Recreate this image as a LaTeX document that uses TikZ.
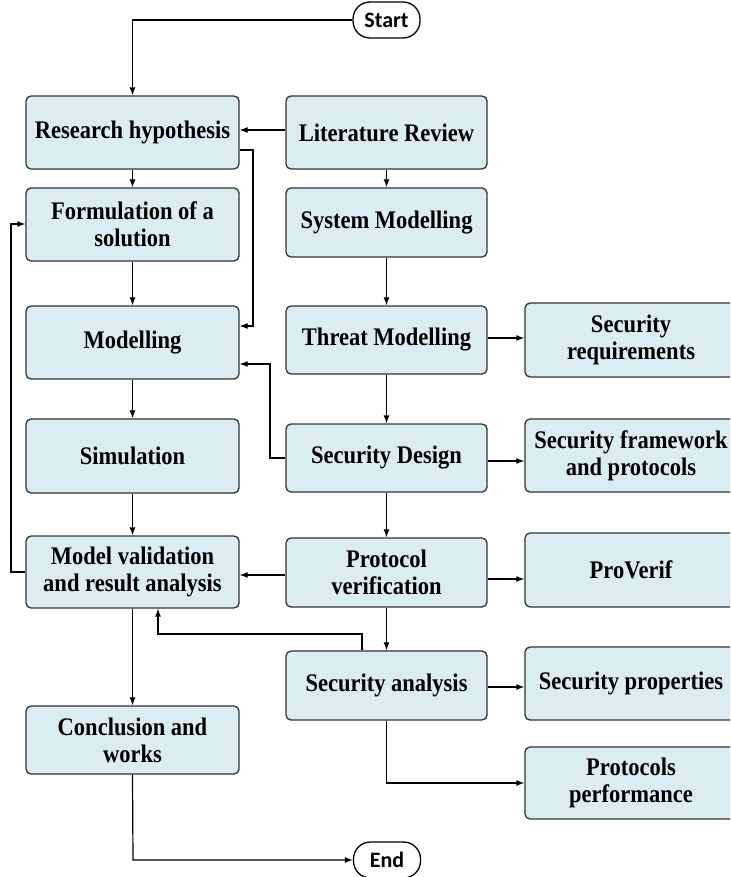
\documentclass[tikz,border=0pt]{standalone}
\usepackage{fontspec}
\setmainfont[FakeStretch=0.89]{Liberation Serif}
\newfontfamily\termfont{Carlito}
\usetikzlibrary{arrows.meta}

\definecolor{boxfill}{HTML}{DBECF2}
\definecolor{boxline}{HTML}{333333}

\tikzset{
  stepbox/.style={draw=boxline, line width=1.3pt, fill=boxfill, rounded corners=5pt,
    align=center, inner sep=2pt,
    font=\fontsize{25.3}{26.8}\selectfont\bfseries},
  leftbox/.style={stepbox, minimum width=213pt},
  rightbox/.style={stepbox, minimum width=201pt},
  outbox/.style={stepbox, minimum width=212pt},
  terminal/.style={draw=black, line width=1.3pt, rounded corners=17pt, fill=white,
    minimum width=67pt, minimum height=36pt, inner sep=0pt,
    font=\termfont\fontsize{22}{24}\selectfont\bfseries},
  flow/.style={draw=black, line width=1.2pt, -{Latex[length=8pt,width=6pt]}},
  plain/.style={draw=black, line width=1.2pt}
}

\begin{document}
\begin{tikzpicture}[x=1pt, y=-1pt]
  \useasboundingbox (0,0) rectangle (730,877);
  \clip (0,0) rectangle (730,877);

  % terminals
  \node[terminal] (start) at (386.5,20) {Start};
  \node[terminal] (end) at (387,860) {End};

  % left column: research process
  \node[leftbox, minimum height=73pt] (rh) at (132.5,132.5) {Research hypothesis};
  \node[leftbox, minimum height=73pt] (fs) at (132.5,224.5) {Formulation of a\\solution};
  \node[leftbox, minimum height=73pt] (mo) at (132.5,342.5) {Modelling};
  \node[leftbox, minimum height=74pt] (si) at (132.5,456) {Simulation};
  \node[leftbox, minimum height=72pt] (mv) at (132.5,572) {Model validation\\and result analysis};
  \node[leftbox, minimum height=68pt] (cw) at (132.5,740) {Conclusion and\\works};

  % middle column: security work
  \node[rightbox, minimum height=73pt] (lr) at (386.5,132.5) {Literature Review};
  \node[rightbox, minimum height=69pt] (sm) at (386.5,222.5) {System Modelling};
  \node[rightbox, minimum height=68pt] (tm) at (386.5,340) {Threat Modelling};
  \node[rightbox, minimum height=68pt] (sd) at (386.5,458) {Security Design};
  \node[rightbox, minimum height=69pt] (pv) at (386.5,572.5) {Protocol\\verification};
  \node[rightbox, minimum height=69pt] (sa) at (386.5,685.5) {Security analysis};

  % right column: outcomes
  \node[outbox, minimum height=74pt] (sr) at (631,340) {Security\\requirements};
  \node[outbox, minimum height=73pt] (sf) at (631,455.5) {Security framework\\and protocols};
  \node[outbox, minimum height=74pt] (pf) at (631,570) {ProVerif};
  \node[outbox, minimum height=73pt] (sp) at (631,683.5) {Security properties};
  \node[outbox, minimum height=72pt] (pp) at (631,783) {Protocols\\performance};

  % bend points
  \coordinate (rhOut) at (253,150);
  \coordinate (sdOut) at (270,458);
  \coordinate (loopX) at (11,572);
  \coordinate (saUp) at (362,634);
  \coordinate (mvIn) at (158,634);
  \coordinate (saDown) at (386.5,783);
  \coordinate (cwDown) at (133,860);

  % left column flow
  \draw[flow] (start.west) -| (rh.north);
  \draw[flow] (lr.west |- 0,130) -- (rh.east |- 0,130);
  \draw[flow] (rh.south) -- (fs.north);
  \draw[flow] (rh.east |- rhOut) -- (rhOut) |- (mo.east |- 0,326);
  \draw[flow] (fs.south) -- (mo.north);
  \draw[flow] (mo.south) -- (si.north);
  \draw[flow] (si.south) -- (mv.north);
  \draw[flow] (mv.west) -- (loopX) |- (fs.west |- 0,224);
  \draw[flow] (mv.south) -- (cw.north);
  \draw[flow] (cw.south) -- (cwDown) -- (end.west);

  % middle column flow
  \draw[flow] (lr.south) -- (sm.north);
  \draw[flow] (sm.south) -- (tm.north);
  \draw[flow] (tm.south) -- (sd.north);
  \draw[flow] (sd.south) -- (pv.north);
  \draw[flow] (pv.south) -- (sa.north);
  \draw[flow] (sd.west |- sdOut) -- (sdOut) |- (mo.east |- 0,364);
  \draw[flow] (pv.west |- 0,575) -- (mv.east |- 0,575);
  \draw[flow] (sa.north -| saUp) -- (saUp) -- (mvIn) -- (mv.south -| mvIn);

  % outputs
  \draw[flow] (tm.east |- 0,338) -- (sr.west |- 0,338);
  \draw[flow] (sd.east |- 0,461) -- (sf.west |- 0,461);
  \draw[flow] (pv.east |- 0,579) -- (pf.west |- 0,579);
  \draw[flow] (sa.east |- 0,687) -- (sp.west |- 0,687);
  \draw[flow] (sa.south) -- (saDown) -- (pp.west |- saDown);
\end{tikzpicture}
\end{document}
